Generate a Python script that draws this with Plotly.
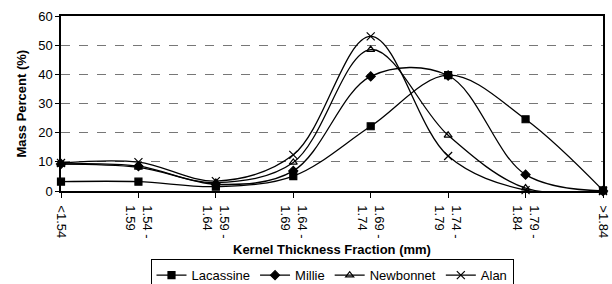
import plotly.graph_objects as go

categories = ["<1.54", "1.54 -<br>1.59", "1.59 -<br>1.64", "1.64 -<br>1.69",
              "1.69 -<br>1.74", "1.74 -<br>1.79", "1.79 -<br>1.84", ">1.84"]
lacassine = [3.2, 3.2, 1.5, 5.1, 22.2, 39.7, 24.6, 0.2]
millie = [9.3, 8.5, 2.3, 6.9, 39.3, 39.6, 5.6, 0.0]
newbonnet = [9.2, 8.1, 2.9, 9.8, 48.5, 19.1, 1.0, 0.0]
alan = [9.6, 9.9, 3.4, 12.4, 53.0, 12.0, 0.3, 0.0]

series = [
    ("Lacassine", lacassine, "square", 7),
    ("Millie", millie, "diamond", 7),
    ("Newbonnet", newbonnet, "triangle-up-open", 7),
    ("Alan", alan, "x-thin-open", 8),
]

fig = go.Figure()
for name, vals, sym, sz in series:
    fig.add_trace(go.Scatter(
        x=list(range(len(categories))), y=vals, name=name,
        mode="lines+markers",
        line=dict(color="black", width=1.3, shape="spline", smoothing=1),
        marker=dict(symbol=sym, size=sz, color="black",
                    line=dict(color="black", width=1.2)),
        cliponaxis=False,
    ))

fig.update_layout(
    width=612, height=284,
    margin=dict(l=61, r=9, t=16, b=93, autoexpand=False),
    paper_bgcolor="white", plot_bgcolor="white",
    font=dict(family="Liberation Sans, Arial, sans-serif", size=13, color="black"),
    showlegend=True,
    legend=dict(orientation="h", x=0.5, xanchor="center", y=-0.39, yanchor="top",
                bordercolor="black", borderwidth=1, font=dict(size=13),
                itemwidth=30, tracegroupgap=0),
    annotations=[
        dict(text="<b>Kernel Thickness Fraction (mm)</b>", xref="paper", yref="paper",
             x=0.5, y=-0.335, yanchor="middle", xanchor="center", showarrow=False,
             font=dict(size=13)),
        dict(text="<b>Mass Percent (%)</b>", xref="paper", yref="paper",
             x=-0.072, xanchor="center", y=0.5, yanchor="middle", textangle=-90,
             showarrow=False, font=dict(size=13)),
    ],
)
fig.update_xaxes(
    range=[0, 7], tickmode="array", tickvals=list(range(len(categories))),
    ticktext=categories, tickangle=90, ticks="outside", ticklen=5,
    tickcolor="black", showline=True, linecolor="black", linewidth=1.5,
    mirror=True, showgrid=False, zeroline=False, tickfont=dict(size=13),
    ticklabelstandoff=5, automargin=False,
)
fig.update_yaxes(
    range=[0, 60], dtick=10, ticks="outside", ticklen=4, tickcolor="black",
    showline=True, linecolor="black", linewidth=1.5, mirror=True,
    showgrid=True, gridcolor="#777", griddash="dash", gridwidth=1,
    zeroline=False, tickfont=dict(size=13), automargin=False,
)
fig.write_html("out.html", config={"displayModeBar": False},
               post_script="document.body.style.margin='0';document.body.style.overflow='hidden';")
